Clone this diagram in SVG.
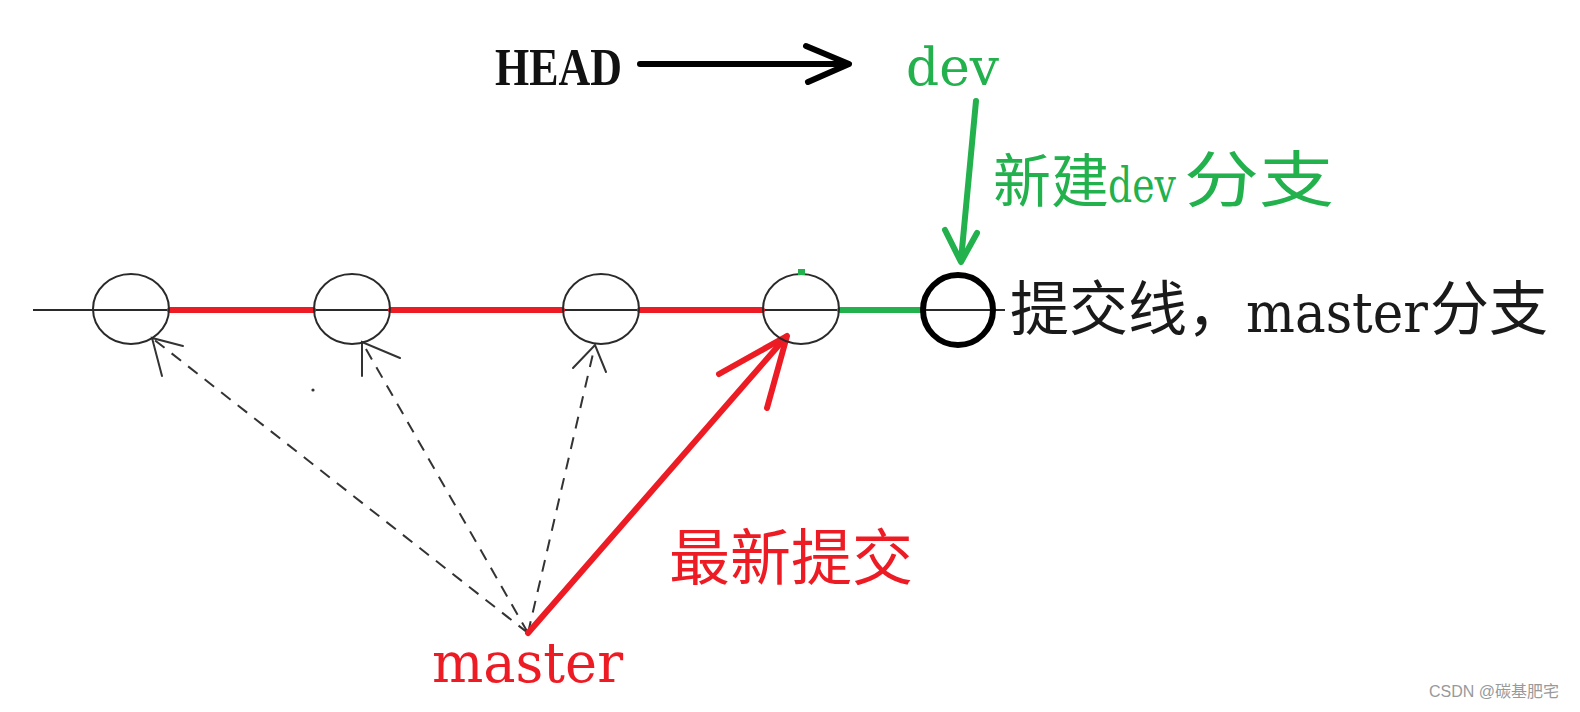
<svg xmlns="http://www.w3.org/2000/svg" width="1580" height="712" viewBox="0 0 1580 712">
<style>
.bg{fill:#fff}
.thin{fill:none;stroke:#2a2a2a;stroke-width:2}
.commit{fill:none;stroke:#2a2a2a;stroke-width:2}
.red{stroke:#ed1c24;stroke-width:6;fill:none;stroke-linecap:round;stroke-linejoin:round}
.green{stroke:#22b14c;stroke-width:6;fill:none;stroke-linecap:round;stroke-linejoin:round}
.black{stroke:#000;stroke-width:6;fill:none;stroke-linecap:round;stroke-linejoin:round}
.dash{stroke:#333;stroke-width:2;fill:none;stroke-dasharray:12 9}
.head{stroke:#333;stroke-width:2;fill:none;stroke-linecap:round}
.cjk{font-family:"Noto Sans CJK SC","Noto Sans",sans-serif}
.lat{font-family:"DejaVu Serif","Liberation Serif",serif}
</style>
<rect class="bg" x="0" y="0" width="1580" height="712"/>

<g id="connectors">
  <line class="thin" x1="33" y1="310" x2="1005" y2="310"/>
  <line class="red" x1="170" y1="310" x2="313" y2="310" stroke-linecap="butt"/>
  <line class="red" x1="391" y1="310" x2="562" y2="310" stroke-linecap="butt"/>
  <line class="red" x1="640" y1="310" x2="762" y2="310" stroke-linecap="butt"/>
  <line class="green" x1="840" y1="310" x2="923" y2="310" stroke-linecap="butt"/>
  <!-- HEAD -> dev -->
  <line class="black" x1="640" y1="64" x2="846" y2="64"/>
  <polyline class="black" points="806,46 849,64 808,82"/>
  <!-- dev -> new commit -->
  <line class="green" x1="976" y1="101" x2="961" y2="260" stroke-width="5"/>
  <polyline class="green" points="945,230 961,262 977,233" stroke-width="5"/>
  <!-- master dashed history pointers -->
  <line class="dash" x1="528" y1="633" x2="152" y2="338"/>
  <polyline class="head" points="183,346 152,338 162,376"/>
  <line class="dash" x1="528" y1="633" x2="362" y2="342"/>
  <polyline class="head" points="400,358 362,342 362,376"/>
  <line class="dash" x1="528" y1="633" x2="595" y2="345"/>
  <polyline class="head" points="573,368 595,345 606,372"/>
  <!-- master -> latest commit -->
  <line class="red" x1="528" y1="633" x2="786" y2="337"/>
  <polyline class="red" points="719,374 787,336 767,408"/>
  <circle cx="313" cy="390" r="1.6" fill="#333"/>
</g>

<g id="commit1"><ellipse class="commit" cx="131" cy="309" rx="38" ry="35"/></g>
<g id="commit2"><ellipse class="commit" cx="352" cy="309" rx="38" ry="35"/></g>
<g id="commit3"><ellipse class="commit" cx="601" cy="309" rx="38" ry="35"/></g>
<g id="commit4"><ellipse class="commit" cx="801" cy="309" rx="38" ry="35"/>
  <rect x="798" y="269" width="7" height="6" fill="#22b14c"/></g>
<g id="commit-new"><circle cx="958" cy="310" r="35" fill="none" stroke="#000" stroke-width="6"/></g>

<g id="label-head"><text x="495" y="85" font-family="'Liberation Serif',serif" font-weight="bold" font-size="53" fill="#111" textLength="127" lengthAdjust="spacingAndGlyphs">HEAD</text></g>
<g id="label-dev"><text class="lat" x="906" y="85" font-size="52" fill="#22b14c" textLength="93" lengthAdjust="spacingAndGlyphs">dev</text></g>
<g id="label-newdev"><text y="202" fill="#22b14c"><tspan class="cjk" x="993" font-size="58">新建</tspan><tspan class="lat" x="1108" font-size="48" textLength="68" lengthAdjust="spacingAndGlyphs">dev</tspan><tspan class="cjk" x="1184" font-size="61" textLength="150" lengthAdjust="spacingAndGlyphs">分支</tspan></text></g>
<g id="label-line" fill="#1a1a1a">
  <text class="cjk" x="1010" y="330" font-size="59">提交线，</text>
  <text class="lat" x="1246" y="332" font-size="56" textLength="182" lengthAdjust="spacingAndGlyphs">master</text>
  <text class="cjk" x="1430" y="330" font-size="59">分支</text>
</g>
<g id="label-latest"><text class="cjk" x="669" y="580" font-size="61" fill="#ed1c24">最新提交</text></g>
<g id="label-master"><text class="lat" x="432" y="682" font-size="56" fill="#ed1c24" textLength="191" lengthAdjust="spacingAndGlyphs">master</text></g>
<text x="1429" y="697" font-family="'Liberation Sans','Noto Sans CJK SC',sans-serif" font-size="16" fill="#999">CSDN @碳基肥宅</text>
</svg>
